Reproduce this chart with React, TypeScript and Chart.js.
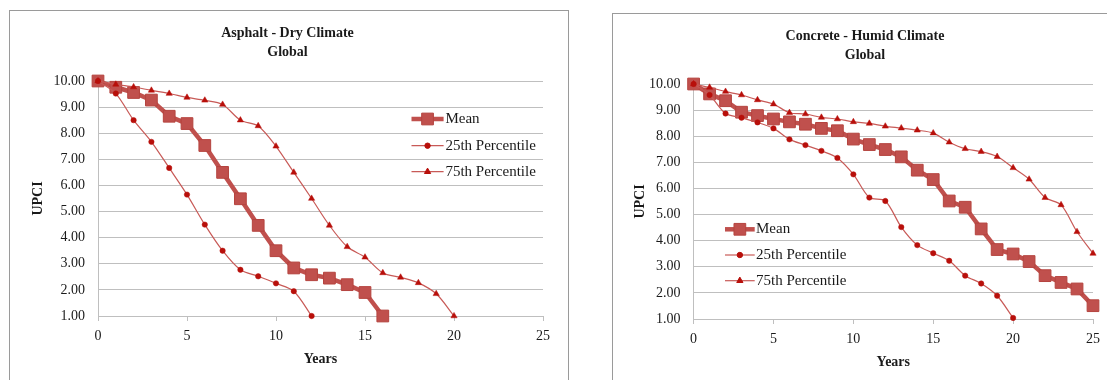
import React, { useEffect, useRef } from 'react';
import { Chart, registerables } from 'chart.js';
import { drawPoint } from 'chart.js/helpers';

Chart.register(...registerables);

// ---- Data ----
const seriesLabels = ['Mean', '25th Percentile', '75th Percentile'];
const xTickValues = [0, 5, 10, 15, 20, 25];

const asphaltTitle = ['Asphalt - Dry Climate', 'Global'];
const asphaltMean = [10.0, 9.76, 9.56, 9.27, 8.65, 8.37, 7.53, 6.5, 5.49, 4.47, 3.5, 2.84, 2.58, 2.45, 2.2, 1.9, 1.0];
const asphaltP25 = [10.0, 9.52, 8.5, 7.67, 6.67, 5.65, 4.5, 3.5, 2.77, 2.52, 2.25, 1.95, 1.0];
const asphaltP75 = [10.0, 9.87, 9.77, 9.64, 9.52, 9.37, 9.26, 9.1, 8.5, 8.28, 7.5, 6.5, 5.5, 4.47, 3.65, 3.25, 2.65, 2.48, 2.27, 1.85, 1.0];

const concreteTitle = ['Concrete - Humid Climate', 'Global'];
const concreteMean = [10.0, 9.62, 9.36, 8.92, 8.79, 8.66, 8.55, 8.46, 8.3, 8.21, 7.89, 7.68, 7.49, 7.21, 6.7, 6.34, 5.52, 5.28, 4.45, 3.66, 3.49, 3.2, 2.66, 2.4, 2.15, 1.51];
const concreteP25 = [10.0, 9.58, 8.87, 8.71, 8.53, 8.3, 7.88, 7.66, 7.44, 7.17, 6.54, 5.65, 5.52, 4.52, 3.83, 3.52, 3.23, 2.66, 2.36, 1.89, 1.04];
const concreteP75 = [10.0, 9.87, 9.71, 9.58, 9.39, 9.23, 8.9, 8.85, 8.72, 8.66, 8.55, 8.49, 8.38, 8.31, 8.23, 8.12, 7.77, 7.52, 7.41, 7.22, 6.79, 6.35, 5.65, 5.37, 4.34, 3.51];

// ---- Styles ----
const FONT = "'Liberation Serif', 'Times New Roman', serif";
const MEAN_COLOR = '#C0504D';
const PCT_LINE = '#C85A57';
const PCT_MARK = '#B80F0A';
const GRID = '#BFBFBF';
const TEXT = '#1a1a1a';

const legendPlugin = {
  id: 'placedLegend',
  afterDatasetsDraw(chart: any, _args: any, opts: any) {
    if (!opts || !opts.ys) return;
    const ctx = chart.ctx;
    ctx.save();
    chart.data.datasets.forEach((ds: any, i: number) => {
      const y = opts.ys[i];
      ctx.strokeStyle = ds.borderColor;
      ctx.lineWidth = ds.borderWidth;
      ctx.beginPath();
      ctx.moveTo(opts.x1, y);
      ctx.lineTo(opts.x2, y);
      ctx.stroke();
      ctx.fillStyle = ds.pointBackgroundColor;
      ctx.strokeStyle = ds.pointBorderColor;
      ctx.lineWidth = 1;
      drawPoint(ctx, { pointStyle: ds.pointStyle, radius: ds.pointRadius, rotation: 0, borderWidth: 1 }, (opts.x1 + opts.x2) / 2, y);
      ctx.fillStyle = TEXT;
      ctx.font = `15px ${FONT}`;
      ctx.textBaseline = 'middle';
      ctx.textAlign = 'left';
      ctx.fillText(ds.label, opts.textX, y);
    });
    ctx.restore();
  },
};

type PanelProps = {
  title: string[];
  mean: number[];
  p25: number[];
  p75: number[];
  width: number;
  height: number;
  padLeft: number;
  padRight: number;
  yAxisWidth: number;
  yTitlePad: number;
  legend: { x1: number; x2: number; textX: number; ys: number[] };
};

function toPoints(values: number[]) {
  return values.map((v, i) => ({ x: i, y: v }));
}

function buildChart(canvas: HTMLCanvasElement, p: PanelProps) {
  return new Chart(canvas, {
    type: 'line',
    data: {
      datasets: [
        {
          label: seriesLabels[0],
          data: toPoints(p.mean),
          borderColor: MEAN_COLOR,
          borderWidth: 4.5,
          pointStyle: 'rect',
          pointRadius: 8.3,
          pointBackgroundColor: MEAN_COLOR,
          pointBorderColor: '#B5443F',
          pointBorderWidth: 1,
          tension: 0,
          order: 2,
          clip: false,
        },
        {
          label: seriesLabels[1],
          data: toPoints(p.p25),
          borderColor: PCT_LINE,
          borderWidth: 1.2,
          pointStyle: 'circle',
          pointRadius: 2.7,
          pointBackgroundColor: PCT_MARK,
          pointBorderColor: PCT_MARK,
          pointBorderWidth: 0.5,
          tension: 0.3,
          order: 1,
          clip: false,
        },
        {
          label: seriesLabels[2],
          data: toPoints(p.p75),
          borderColor: PCT_LINE,
          borderWidth: 1.2,
          pointStyle: 'triangle',
          pointRadius: 3.6,
          pointBackgroundColor: PCT_MARK,
          pointBorderColor: PCT_MARK,
          pointBorderWidth: 0.5,
          tension: 0.3,
          order: 1,
          clip: false,
        },
      ] as any,
    },
    options: {
      animation: false,
      responsive: false,
      maintainAspectRatio: false,
      events: [],
      layout: { padding: { left: p.padLeft, right: p.padRight, top: 0, bottom: 0 } },
      scales: {
        x: {
          type: 'linear',
          min: 0,
          max: 25,
          afterBuildTicks: (scale: any) => {
            scale.ticks = xTickValues.map((v) => ({ value: v }));
          },
          afterFit: (scale: any) => {
            scale.height = 63;
          },
          grid: { drawOnChartArea: false, drawTicks: true, tickLength: 5, color: GRID },
          border: { color: GRID, width: 1 },
          ticks: { font: { family: FONT, size: 14 }, color: TEXT, padding: 7, maxRotation: 0 },
          title: {
            display: true,
            text: 'Years',
            font: { family: FONT, size: 14, weight: 'bold' },
            color: TEXT,
            padding: { top: 0, bottom: 11 },
          },
        },
        y: {
          type: 'linear',
          min: 1,
          max: 10,
          afterFit: (scale: any) => {
            scale.width = p.yAxisWidth;
          },
          grid: { color: GRID, drawTicks: false, lineWidth: 1 },
          border: { color: GRID, width: 1 },
          ticks: {
            stepSize: 1,
            font: { family: FONT, size: 14 },
            color: TEXT,
            padding: 13,
            callback: (v: any) => Number(v).toFixed(2),
          },
          title: {
            display: true,
            text: 'UPCI',
            font: { family: FONT, size: 14, weight: 'bold' },
            color: TEXT,
            padding: { top: p.yTitlePad, bottom: 0 },
          },
        },
      },
      plugins: {
        legend: { display: false },
        tooltip: { enabled: false },
        title: {
          display: true,
          text: p.title,
          font: { family: FONT, size: 14, weight: 'bold', lineHeight: 1.35 },
          color: TEXT,
          padding: { top: 12.9, bottom: 19.3 },
        },
        placedLegend: p.legend,
      } as any,
    } as any,
    plugins: [legendPlugin],
  });
}

function Inner(p: PanelProps) {
  const ref = useRef<HTMLCanvasElement | null>(null);
  useEffect(() => {
    if (!ref.current) return;
    const chart = buildChart(ref.current, p);
    return () => chart.destroy();
  }, []);
  return <canvas ref={ref} width={p.width} height={p.height} style={{ display: 'block', width: p.width, height: p.height }} />;
}

export default function App() {
  return (
    <div
      style={{
        position: 'fixed',
        left: 0,
        top: 0,
        width: 1107,
        height: 380,
        overflow: 'hidden',
        background: '#fff',
      }}
    >
      <div
        style={{
          position: 'absolute',
          left: 9,
          top: 10,
          width: 558,
          height: 420,
          border: '1px solid #9a9a9a',
          background: '#fff',
        }}
      >
        <Inner
          title={asphaltTitle}
          mean={asphaltMean}
          p25={asphaltP25}
          p75={asphaltP75}
          width={556}
          height={368}
          padLeft={22}
          padRight={23}
          yAxisWidth={66}
          yTitlePad={-2}
          legend={{ x1: 401.5, x2: 433.6, textX: 435.4, ys: [108, 134.7, 160.7] }}
        />
      </div>
      <div
        style={{
          position: 'absolute',
          left: 612,
          top: 13,
          width: 560,
          height: 420,
          border: '1px solid #9a9a9a',
          background: '#fff',
        }}
      >
        <Inner
          title={concreteTitle}
          mean={concreteMean}
          p25={concreteP25}
          p75={concreteP75}
          width={494}
          height={368}
          padLeft={18}
          padRight={8}
          yAxisWidth={62.6}
          yTitlePad={0.5}
          legend={{ x1: 112, x2: 141.7, textX: 143, ys: [215.3, 241, 266.7] }}
        />
      </div>
    </div>
  );
}
